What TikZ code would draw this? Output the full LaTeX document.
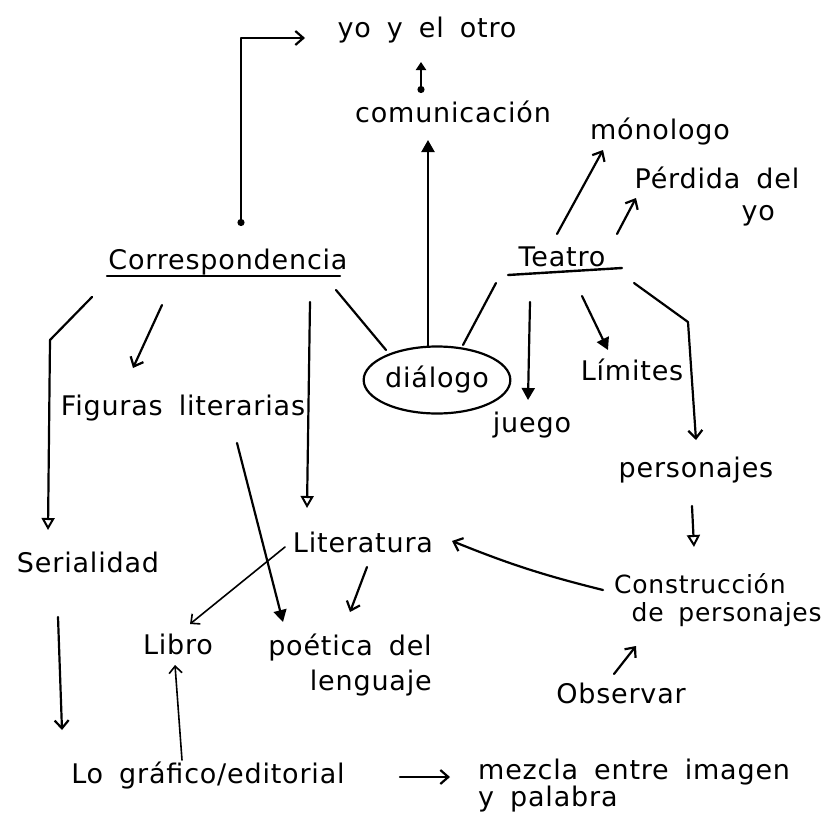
\documentclass[tikz,border=0pt]{standalone}
\usepackage{fontspec}
\setmainfont[LetterSpace=3,WordSpace=1.7]{DejaVu Sans}
\usetikzlibrary{arrows.meta,calc,shapes.geometric}
\tikzset{
  lbl/.style={inner sep=0pt, font=\fontsize{27}{32}\selectfont},
  con/.style={line width=2.2pt, line cap=round, line join=round},
  barb/.style={con, -{Straight Barb[length=8pt,width=14pt,line width=2.2pt]}},
  tri/.style={con, -{Triangle[length=12pt,width=13pt]}},
  otri/.style={con, -{Triangle[open,length=12pt,width=13pt,line width=2pt]}},
  dotbarb/.style={con, {Circle[length=7pt]}-{Straight Barb[length=8pt,width=14pt,line width=2.2pt]}},
  dottri/.style={con, {Circle[length=7pt]}-{Triangle[length=8pt,width=10pt]}},
  thinbarb/.style={con, line width=1.6pt, -{Straight Barb[length=7pt,width=13pt,line width=1.6pt]}},
  uline/.style={line width=2.4pt, line cap=round}
}
\begin{document}
\begin{tikzpicture}[x=1pt,y=-1pt]
\fill[white] (0,0) rectangle (836,814);
\useasboundingbox (0,0) rectangle (836,814);

% nodes
\node[lbl] (yo) at (427,30) {yo y el otro};
\node[lbl] (com) at (453,112) {comunicación};
\node[lbl] (mono) at (660,132) {mónologo};
\node[lbl, align=right] (perd) at (717,197) {Pérdida del\\yo\hspace*{0.9em}};
\node[lbl] (corr) at (228,262) {Correspondencia};
\node[lbl] (teatro) at (562,257) {Teatro};
\node[lbl, draw, line width=2.2pt, ellipse, minimum width=141pt, minimum height=67pt] (dial) at (437,380) {diálogo};
\node[lbl] (fig) at (183,408) {Figuras literarias};
\node[lbl] (lim) at (632,370) {Límites};
\node[lbl] (juego) at (532,425) {juego};
\node[lbl] (pers) at (696,470) {personajes};
\node[lbl] (seri) at (88,562) {Serialidad};
\node[lbl] (lit) at (363,542) {Literatura};
\node[lbl, align=left, anchor=west, font=\fontsize{25}{28}\selectfont] (cons) at (614,600) {Construcción\\\hspace*{0.7em}de personajes};
\node[lbl] (obs) at (621,693) {Observar};
\node[lbl] (libro) at (178,644) {Libro};
\node[lbl, align=right, font=\fontsize{27}{35}\selectfont] (poet) at (350,665) {poética del\\lenguaje};
\node[lbl] (lo) at (208,776) {Lo gráfico/editorial};
\node[lbl, align=left, anchor=west, font=\fontsize{27}{27}\selectfont] (mez) at (478,786) {mezcla entre imagen\\y palabra};

% underlines
\draw[uline] ($(corr)+(-121,14)$) -- ($(corr)+(112,14)$);
\draw[uline] ($(teatro)+(-54,18)$) -- ($(teatro)+(60,11)$);

% connectors
\draw[dotbarb] ($(corr)+(13,-36)$) |- ($(yo)+(-122,8)$);
\draw[otri] ($(corr)+(-136,35)$) -- ($(corr)+(-178,78)$) -- ($(seri)+(-40,-32)$);
\draw[barb] ($(corr)+(-66,43)$) -- ($(fig)+(-50,-40)$);
\draw[otri] ($(corr)+(82,40)$) -- ($(lit)+(-56,-34)$);
\draw[con] ($(corr)+(108,28)$) -- ($(dial)+(-51,-30)$);

\draw[barb] ($(teatro)+(-5,-23)$) -- ($(mono)+(-57,18)$);
\draw[barb] ($(teatro)+(55,-23)$) -- ($(perd)+(-81,1)$);
\draw[con] ($(teatro)+(-66,26)$) -- ($(dial)+(26,-35)$);
\draw[tri] ($(teatro)+(-32,45)$) -- ($(juego)+(-4,-25)$);
\draw[tri] ($(teatro)+(20,39)$) -- ($(lim)+(-24,-20)$);
\draw[barb] ($(teatro)+(72,26)$) -- ($(teatro)+(126,65)$) -- ($(pers)+(0,-30)$);

\draw[tri] ($(dial)+(-9,-34)$) -- ($(com)+(-25,28)$);
\draw[dottri] ($(com)+(-32,-19)$) -- ($(yo)+(-6,32)$);

\draw[otri] ($(pers)+(-4,36)$) -- ($(cons.west)+(80,-53)$);
\draw[barb] ($(cons.west)+(-11,-10)$) to[bend left=4] ($(lit)+(89,-1)$);
\draw[barb] ($(obs)+(-7,-19)$) -- ($(cons.west)+(22,46)$);

\draw[thinbarb] ($(lit)+(-78,5)$) -- ($(libro)+(12,-20)$);
\draw[barb] ($(lit)+(4,25)$) -- ($(poet)+(0,-53)$);
\draw[tri] ($(fig)+(54,35)$) -- ($(poet)+(-67,-43)$);

\draw[barb] ($(seri)+(-30,55)$) -- ($(lo)+(-146,-46)$);
\draw[thinbarb] ($(lo)+(-26,-16)$) -- ($(libro)+(-3,21)$);
\draw[barb] ($(lo)+(192,1)$) -- ($(mez.west)+(-28,-9)$);
\end{tikzpicture}
\end{document}
